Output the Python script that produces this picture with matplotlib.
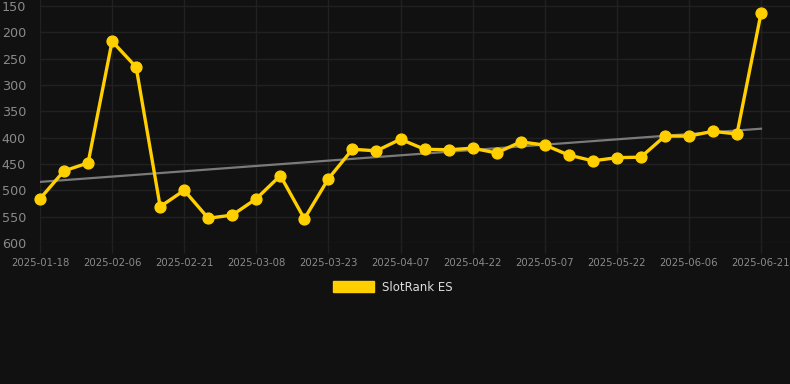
import matplotlib
matplotlib.use("Agg")
import matplotlib.pyplot as plt
from matplotlib.patches import Patch

# ---- data ----
ranks = [516, 463, 448, 217, 266, 531, 500, 553, 547, 516,
         472, 554, 478, 422, 425, 403, 422, 423, 420, 429,
         408, 414, 433, 444, 438, 437, 397, 397, 388, 393, 164]
tick_labels = ["2025-01-18", "2025-02-06", "2025-02-21", "2025-03-08",
               "2025-03-23", "2025-04-07", "2025-04-22", "2025-05-07",
               "2025-05-22", "2025-06-06", "2025-06-21"]
tick_step = 3
trend_values = [484, 383]
y_ticks = [150, 200, 250, 300, 350, 400, 450, 500, 550, 600]
series_name = "SlotRank ES"

# ---- style ----
BG = "#111111"
GRID = "#212121"
GOLD = "#FFCF00"
TICKC = "#8a8a8a"

W, H = 790, 384
fig = plt.figure(figsize=(W / 100, H / 100), dpi=100, facecolor=BG)
ax_left, ax_right, ax_top, ax_bottom = 40, 790, 0, 243
ax = fig.add_axes([ax_left / W, 1 - ax_bottom / H,
                   (ax_right - ax_left) / W, (ax_bottom - ax_top) / H])
ax.set_facecolor(BG)

n = len(ranks)
xs = list(range(n))
px_per_step = (761 - 40) / (n - 1)
ax.set_xlim(0, (ax_right - ax_left) / px_per_step)
units_per_px = (600 - 150) / (243 - 6)
ax.set_ylim(600, 150 - 6 * units_per_px)

# grid
ax.set_yticks(y_ticks)
ax.set_xticks(xs[::tick_step])
ax.set_xticklabels(tick_labels)
ax.grid(True, color=GRID, linewidth=1)
for s in ax.spines.values():
    s.set_visible(False)
ax.tick_params(axis="y", colors=GRID, length=0, pad=10, labelsize=9.2,
               labelcolor=TICKC)
ax.tick_params(axis="x", colors=GRID, length=7, width=1, pad=4,
               labelsize=7.3, labelcolor=TICKC)

# trend line
ax.plot([xs[0], xs[-1]], trend_values, color="#7a7a7a", linewidth=1.6,
        zorder=2)
# series
ax.plot(xs, ranks, color=GOLD, linewidth=2.4, marker="o", markersize=7.8,
        markerfacecolor=GOLD, markeredgecolor=GOLD, zorder=3, clip_on=False)

# legend
handle = Patch(facecolor=GOLD, edgecolor=GOLD, label=series_name)
leg = fig.legend(handles=[handle], loc="upper center",
                 bbox_to_anchor=(0.497, 1 - 270 / H), frameon=False,
                 fontsize=8.5, handlelength=3.5, handleheight=1.0,
                 handletextpad=0.6)
for t in leg.get_texts():
    t.set_color("#dddddd")

fig.savefig("out.png", dpi=100, facecolor=BG)
